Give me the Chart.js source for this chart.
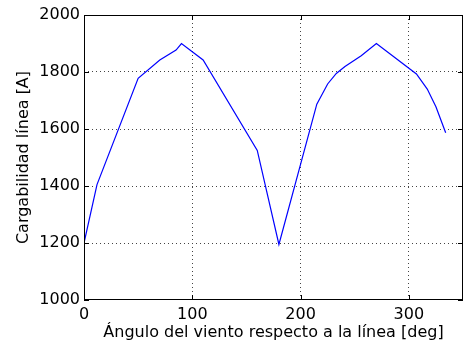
<!DOCTYPE html>
<html lang="es">
<head>
<meta charset="UTF-8">
<title>Cargabilidad línea</title>
<script src="https://cdn.jsdelivr.net/npm/chart.js"></script>
<style>
  html, body { margin: 0; padding: 0; background: #fff; }
</style>
</head>
<body>
<canvas id="grafico" width="466" height="352"></canvas>
<script>
// ángulo del viento [deg] y cargabilidad [A]
const angulos = [0, 12, 50, 70, 85, 90, 110, 160, 180, 215, 225, 233, 241, 256, 270, 307, 317, 325, 334];
const carga = [1200, 1405, 1778, 1842, 1877, 1900, 1842, 1525, 1195, 1687, 1758, 1795, 1819, 1857, 1900, 1793, 1740, 1678, 1587];
const ticksX = [0, 100, 200, 300];
const ticksY = [1000, 1200, 1400, 1600, 1800, 2000];

const puntos = angulos.map((a, i) => ({ x: a, y: carga[i] }));
const fuente = { family: 'DejaVu Sans, sans-serif', size: 16 };

// ocultar la rejilla en los bordes (la caja la dibuja el plugin)
function colorGrid(extremos) {
  return ctx => {
    const v = ctx.tick && ctx.tick.value;
    return extremos.includes(v) ? 'rgba(0,0,0,0)' : '#444';
  };
}

// caja y marcas hacia adentro, estilo MATLAB
const cajaMatlab = {
  id: 'cajaMatlab',
  afterDraw(chart) {
    const { ctx, chartArea: a, scales } = chart;
    ctx.save();
    ctx.strokeStyle = '#000';
    ctx.lineWidth = 1;
    ctx.strokeRect(a.left + 0.5, a.top + 0.5, a.right - a.left - 1, a.bottom - a.top - 1);
    const L = 5;
    ctx.beginPath();
    ticksX.forEach(v => {
      const px = Math.round(scales.x.getPixelForValue(v)) + 0.5;
      ctx.moveTo(px, a.bottom); ctx.lineTo(px, a.bottom - L);
      ctx.moveTo(px, a.top); ctx.lineTo(px, a.top + L);
    });
    ticksY.forEach(v => {
      const py = Math.round(scales.y.getPixelForValue(v)) + 0.5;
      ctx.moveTo(a.left, py); ctx.lineTo(a.left + L, py);
      ctx.moveTo(a.right, py); ctx.lineTo(a.right - L, py);
    });
    ctx.stroke();
    ctx.restore();
  }
};

new Chart(document.getElementById('grafico'), {
  type: 'line',
  data: {
    datasets: [{
      data: puntos,
      borderColor: '#0000ff',
      borderWidth: 1.2,
      pointRadius: 0,
      tension: 0,
      fill: false
    }]
  },
  options: {
    responsive: false,
    animation: false,
    layout: { padding: { top: 15, right: 3, left: 0, bottom: 0 } },
    plugins: { legend: { display: false }, tooltip: { enabled: false } },
    scales: {
      x: {
        type: 'linear',
        min: 0,
        max: 350,
        afterBuildTicks: s => { s.ticks = ticksX.map(v => ({ value: v })); },
        afterFit: s => { s.height = 52; },
        border: { display: false, dash: [1, 3] },
        grid: { drawTicks: false, color: colorGrid([0, 350]), lineWidth: 1 },
        ticks: { color: '#000', font: fuente, padding: 5, maxRotation: 0, callback: v => String(v) },
        title: { display: true, text: 'Ángulo del viento respecto a la línea [deg]', color: '#000', font: fuente, padding: { top: 0, bottom: 10 } }
      },
      y: {
        min: 1000,
        max: 2000,
        afterBuildTicks: s => { s.ticks = ticksY.map(v => ({ value: v })); },
        afterFit: s => { s.width = 84; },
        border: { display: false, dash: [1, 3] },
        grid: { drawTicks: false, color: colorGrid([1000, 2000]), lineWidth: 1 },
        ticks: { color: '#000', font: fuente, padding: 4, callback: v => String(v) },
        title: { display: true, text: 'Cargabilidad línea [A]', color: '#000', font: fuente, padding: { top: 14, bottom: 0 } }
      }
    }
  },
  plugins: [cajaMatlab]
});
</script>
</body>
</html>
